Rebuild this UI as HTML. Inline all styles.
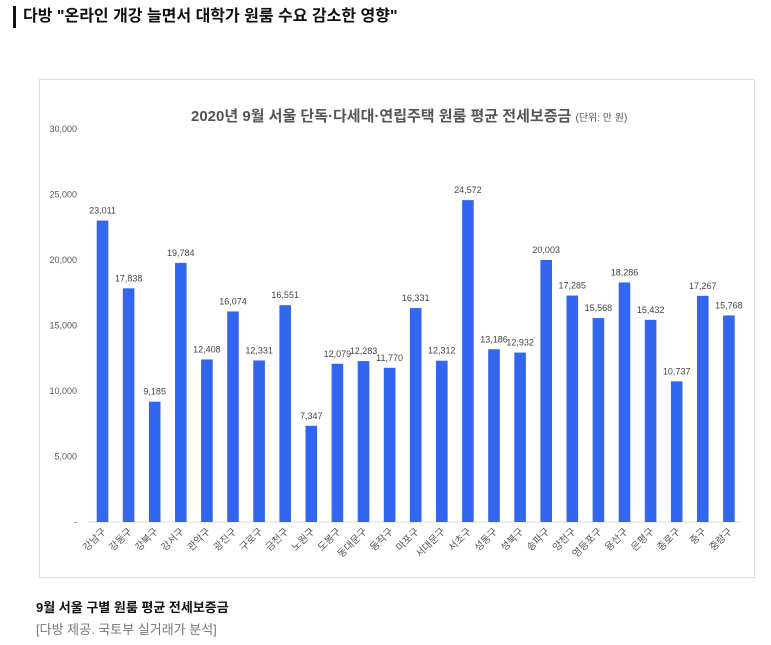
<!DOCTYPE html>
<html><head><meta charset="utf-8"><style>
body{margin:0;background:#fff;width:771px;height:645px;overflow:hidden;font-family:"Liberation Sans","Noto Sans CJK KR",sans-serif}
.hd{position:absolute;left:13px;top:6px;height:22px;border-left:3px solid #111;padding-left:7px;font-size:16px;font-weight:bold;color:#111;line-height:22px}
.box{position:absolute;left:39px;top:79px;width:714px;height:497px;border:1px solid #ddd}
.cap1{position:absolute;left:36px;top:597px;font-size:13px;font-weight:bold;color:#111}
.cap2{position:absolute;left:36px;top:619px;font-size:13px;color:#777}
</style></head><body>
<div class="hd">다방 "온라인 개강 늘면서 대학가 원룸 수요 감소한 영향"</div>
<div class="box"></div>
<svg id="c" width="771" height="645" style="position:absolute;left:0;top:0">
<text x="191" y="121" font-size="15" font-weight="bold" fill="#555" font-family="Liberation Sans,Noto Sans CJK KR,sans-serif">2020년 9월 서울 단독·다세대·연립주택 원룸 평균 전세보증금 <tspan font-size="10" font-weight="normal">(단위: 만 원)</tspan></text>
</svg>
<div class="cap1">9월 서울 구별 원룸 평균 전세보증금</div>
<div class="cap2">[다방 제공. 국토부 실거래가 분석]</div>
<script>
const categories=["강남구","강동구","강북구","강서구","관악구","광진구","구로구","금천구","노원구","도봉구","동대문구","동작구","마포구","서대문구","서초구","성동구","성북구","송파구","양천구","영등포구","용산구","은평구","종로구","중구","중랑구"];
const values=[23011,17838,9185,19784,12408,16074,12331,16551,7347,12079,12283,11770,16331,12312,24572,13186,12932,20003,17285,15568,18286,15432,10737,17267,15768];
const yTicks=[0,5000,10000,15000,20000,25000,30000];
const yTickLabels=["-","5,000","10,000","15,000","20,000","25,000","30,000"];
const svg=document.getElementById('c');const NS="http://www.w3.org/2000/svg";
const y0=522,y1=129,yMax=30000;
const y=v=>y0-(v/yMax)*(y0-y1);
const x=i=>102.5+i*26.1;
function mk(t,a){const e=document.createElementNS(NS,t);for(const k in a)e.setAttribute(k,a[k]);svg.appendChild(e);return e;}
const ff="Liberation Sans,Noto Sans CJK KR,sans-serif";
yTicks.forEach((t,i)=>{const e=mk('text',{x:77,y:y(t)+3,'text-anchor':'end','font-size':9,fill:'#555','font-family':ff});e.textContent=yTickLabels[i];

});
const ax=mk('line',{x1:88,x2:742,y1:y0,y2:y0,stroke:'#d9d9d9'});


values.forEach((v,i)=>{
const r=mk('rect',{x:x(i)-5.8,y:y(v),width:11.6,height:y0-y(v),fill:'#3366ee'});


const l=mk('text',{x:x(i),y:y(v)-7,'text-anchor':'middle','font-size':9,fill:'#444','font-family':ff});l.textContent=v.toLocaleString('en-US');


const c=mk('text',{x:x(i)+4,y:y0+10,'text-anchor':'end','font-size':10,fill:'#555','font-family':ff,transform:`rotate(-45 ${x(i)+4} ${y0+10})`});c.textContent=categories[i];


});
</script>
</body></html>
